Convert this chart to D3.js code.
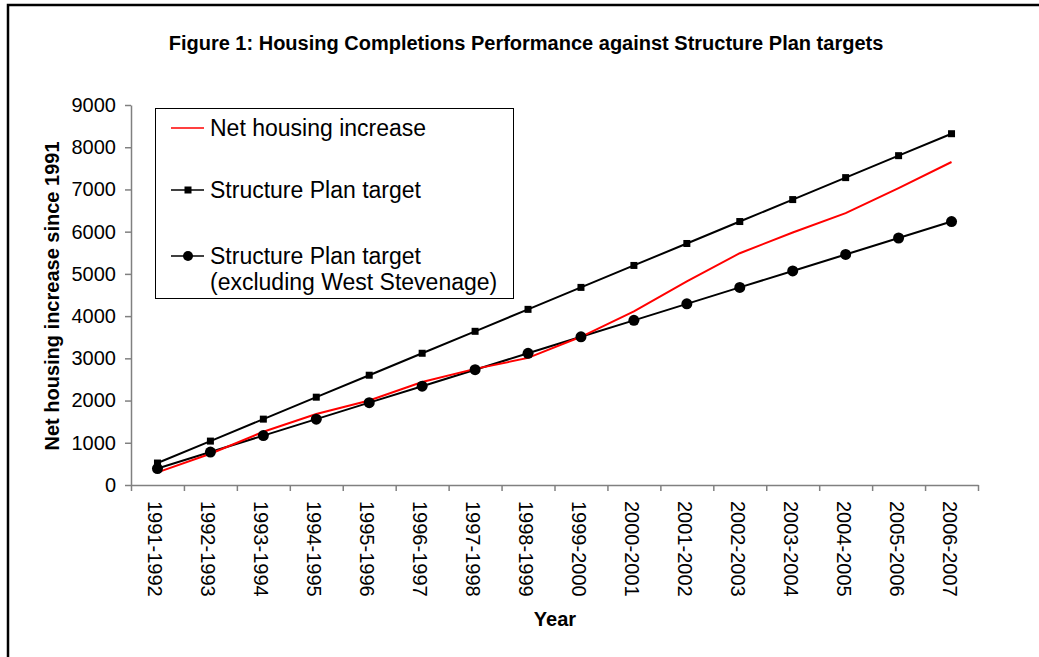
<!DOCTYPE html>
<html>
<head>
<meta charset="utf-8">
<script src="https://cdn.jsdelivr.net/npm/d3@7"></script>
<style>
  body { margin: 0; background: #fff; }
  svg { font-family: Arial, "Liberation Sans", sans-serif; }
</style>
</head>
<body>
<div id="field"></div>
<script>
// data

const years = ["1991-1992", "1992-1993", "1993-1994", "1994-1995", "1995-1996", "1996-1997",
    "1997-1998", "1998-1999", "1999-2000", "2000-2001", "2001-2002", "2002-2003",
    "2003-2004", "2004-2005", "2005-2006", "2006-2007"];

const netIncrease = [300, 740, 1260, 1680, 2000, 2440, 2750, 3010, 3510, 4110, 4820, 5490, 5980, 6440, 7030, 7650];
const planTarget = [520, 1040, 1560, 2080, 2600, 3120, 3640, 4160, 4680, 5200, 5720, 6240, 6760, 7280, 7800, 8320];
const planTargetExWS = [390, 780, 1170, 1560, 1950, 2340, 2730, 3120, 3510, 3900, 4290, 4680, 5070, 5460, 5850, 6240];

const yTicks = [0, 1000, 2000, 3000, 4000, 5000, 6000, 7000, 8000, 9000];

// sizes

const width = 1039;
const height = 657;
const plotLeft = 131;
const plotRight = 978;
const plotTop = 105;
const plotBottom = 485;

const svg = d3.select("#field")
    .append("svg")
    .attr("width", width)
    .attr("height", height);

// outer frame
svg.append("rect")
    .attr("x", 8)
    .attr("y", 5)
    .attr("width", 1060)
    .attr("height", 700)
    .attr("fill", "none")
    .attr("stroke", "#000")
    .attr("stroke-width", 2.5);

// scales

const x = d3.scaleBand()
    .domain(years)
    .range([plotLeft, plotRight])
    .padding(0);

const xEdge = d3.scaleLinear()
    .domain([0, years.length])
    .range([plotLeft, plotRight]);

const y = d3.scaleLinear()
    .domain([0, 9000])
    .range([plotBottom, plotTop]);

const cx = function(d, i) { return x(years[i]) + x.bandwidth() / 2; };

// axes

const yAxis = d3.axisLeft(y)
    .tickValues(yTicks)
    .tickFormat(d3.format("d"))
    .tickSize(6)
    .tickPadding(9)
    .tickSizeOuter(0);

const gy = svg.append("g")
    .attr("transform", "translate(" + plotLeft + ",0)")
    .call(yAxis);

gy.selectAll("text")
    .attr("font-size", 20)
    .attr("font-family", "Arial, 'Liberation Sans', sans-serif")
    .attr("fill", "#000");

const xAxis = d3.axisBottom(xEdge)
    .tickValues(d3.range(years.length + 1))
    .tickFormat("")
    .tickSize(6)
    .tickSizeOuter(0);

const gx = svg.append("g")
    .attr("transform", "translate(0," + plotBottom + ")")
    .call(xAxis);

svg.selectAll(".domain, .tick line")
    .attr("stroke", "#808080")
    .attr("stroke-width", 1.5);

svg.append("g").selectAll("text")
    .data(years)
    .enter().append("text")
    .attr("transform", function(d) {
        return "translate(" + (x(d) + x.bandwidth() / 2 - 2) + "," + (plotBottom + 16) + ") rotate(90)";
    })
    .attr("dy", "0.35em")
    .attr("font-size", 20)
    .attr("fill", "#000")
    .text(function(d) { return d; });

// titles

svg.append("text")
    .attr("x", 526)
    .attr("y", 50)
    .attr("text-anchor", "middle")
    .attr("font-size", 20)
    .attr("font-weight", "bold")
    .text("Figure 1: Housing Completions Performance against Structure Plan targets");

svg.append("text")
    .attr("transform", "translate(59," + ((plotTop + plotBottom) / 2 + 1) + ") rotate(-90)")
    .attr("text-anchor", "middle")
    .attr("font-size", 20)
    .attr("font-weight", "bold")
    .text("Net housing increase since 1991");

svg.append("text")
    .attr("x", 555)
    .attr("y", 626)
    .attr("text-anchor", "middle")
    .attr("font-size", 20)
    .attr("font-weight", "bold")
    .text("Year");

// series

const line = d3.line()
    .x(cx)
    .y(function(d) { return y(d); });

svg.append("path")
    .datum(planTarget)
    .attr("d", line)
    .attr("fill", "none")
    .attr("stroke", "#000")
    .attr("stroke-width", 2);

svg.append("path")
    .datum(planTargetExWS)
    .attr("d", line)
    .attr("fill", "none")
    .attr("stroke", "#000")
    .attr("stroke-width", 2);

svg.append("path")
    .datum(netIncrease)
    .attr("d", line)
    .attr("fill", "none")
    .attr("stroke", "#ff0000")
    .attr("stroke-width", 2);

const sq = 7;
svg.append("g").selectAll("rect")
    .data(planTarget)
    .enter().append("rect")
    .attr("x", function(d, i) { return cx(d, i) - sq / 2; })
    .attr("y", function(d) { return y(d) - sq / 2; })
    .attr("width", sq)
    .attr("height", sq)
    .attr("fill", "#000");

svg.append("g").selectAll("circle")
    .data(planTargetExWS)
    .enter().append("circle")
    .attr("cx", cx)
    .attr("cy", function(d) { return y(d); })
    .attr("r", 5.5)
    .attr("fill", "#000");

// legend

const legend = svg.append("g");

legend.append("rect")
    .attr("x", 155.5)
    .attr("y", 108.5)
    .attr("width", 358)
    .attr("height", 190)
    .attr("fill", "#fff")
    .attr("stroke", "#000")
    .attr("stroke-width", 1);

const legendRows = [
    {label: ["Net housing increase"], color: "#ff0000", marker: "none", cy: 128},
    {label: ["Structure Plan target"], color: "#000", marker: "square", cy: 190},
    {label: ["Structure Plan target", "(excluding West Stevenage)"], color: "#000", marker: "circle", cy: 256}
];

legendRows.forEach(function(r) {
    legend.append("line")
        .attr("x1", 171)
        .attr("x2", 204)
        .attr("y1", r.cy)
        .attr("y2", r.cy)
        .attr("stroke", r.color)
        .attr("stroke-width", 1.5);
    if (r.marker === "square") {
        legend.append("rect")
            .attr("x", 188 - 3.5)
            .attr("y", r.cy - 3.5)
            .attr("width", 7)
            .attr("height", 7)
            .attr("fill", "#000");
    } else if (r.marker === "circle") {
        legend.append("circle")
            .attr("cx", 188)
            .attr("cy", r.cy)
            .attr("r", 5)
            .attr("fill", "#000");
    }
    r.label.forEach(function(t, k) {
        legend.append("text")
            .attr("x", 210)
            .attr("y", r.cy + 8 + k * 26)
            .attr("font-size", 23)
            .attr("fill", "#000")
            .text(t);
    });
});
</script>
</body>
</html>
